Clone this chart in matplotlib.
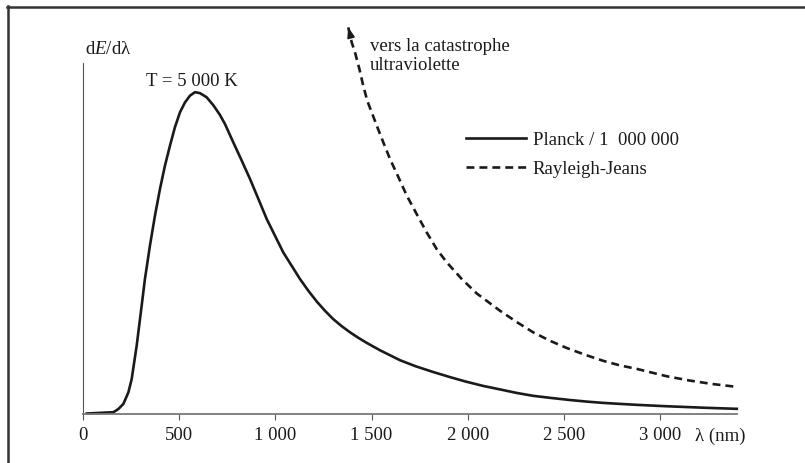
import matplotlib.pyplot as plt
from matplotlib.lines import Line2D

# values (wavelength in nm, intensity in arbitrary units, Planck peak = 100)
planck_nm = [20, 158, 184, 210, 236, 253, 279, 305, 322, 348, 374, 400, 426, 452, 478, 504,
             530, 556, 582, 608, 643, 678, 712, 738, 781, 825, 868, 912, 955, 998, 1041,
             1085, 1128, 1172, 1215, 1258, 1301, 1345, 1388, 1431, 1475, 1544, 1648, 1730,
             1822, 1910, 1993, 2080, 2168, 2255, 2341, 2440, 2532, 2620, 2705, 2790, 2879,
             3000, 3100, 3250, 3399]
planck_val = [0, 0.4, 1.4, 3.0, 6.6, 10.7, 21.1, 33.6, 41.9, 52.3, 61.6, 69.9, 77.2, 83.4,
              89.2, 93.8, 96.9, 99.0, 100.1, 99.8, 98.5, 96.0, 93.0, 90.2, 84.5, 78.8,
              73.1, 66.8, 60.6, 55.4, 50.2, 46.0, 41.9, 38.2, 34.9, 32.0, 29.4, 27.2, 25.3,
              23.6, 22.0, 19.7, 16.6, 14.7, 12.9, 11.3, 9.9, 8.6, 7.5, 6.4, 5.5, 4.8, 4.2,
              3.7, 3.3, 3.0, 2.7, 2.35, 2.1, 1.75, 1.45]

rj_nm = [1379, 1397, 1414, 1437, 1457, 1478, 1501, 1527, 1561, 1596, 1640, 1683, 1735,
         1787, 1839, 1891, 1969, 2047, 2168, 2260, 2340, 2430, 2515, 2610, 2705, 2790,
         2879, 2960, 3035, 3150, 3270, 3399]
rj_val = [120.3, 115.6, 112.5, 107.3, 102.1, 97.4, 93.8, 89.7, 84.5, 79.3, 73.6, 67.9,
          62.1, 56.4, 51.2, 47.1, 41.9, 37.4, 32.0, 28.3, 25.3, 22.6, 20.4, 18.3, 16.4,
          15.0, 13.9, 12.7, 11.6, 10.3, 9.2, 8.3]

xticks = [0, 500, 1000, 1500, 2000, 2500, 3000]
xtick_labels = ['0', '500', '1 000', '1 500', '2 000', '2 500', '3 000']

plt.rcParams['font.family'] = ['Liberation Serif', 'DejaVu Serif']
plt.rcParams['mathtext.fontset'] = 'custom'
plt.rcParams['mathtext.rm'] = 'Liberation Serif'
plt.rcParams['mathtext.it'] = 'Liberation Serif:italic'
FS = 13.5
INK = '#1a1a1a'

W, H = 805, 464
fig = plt.figure(figsize=(W / 100, H / 100), dpi=100)

# axes placed in pixels: x from 83 to 737, y baseline at 414.5 (from top), top at 20
left, right, base, top = 83, 737, 414.5, 20
ax = fig.add_axes([left / W, 1 - base / H, (right - left) / W, (base - top) / H])
ax.set_xlim(0, 3400)
ax.set_ylim(0, (base - top) / 3.21)

ax.plot(planck_nm, planck_val, color=INK, lw=1.9, solid_joinstyle='round', clip_on=False,
        label='Planck / 1  000 000')
rj_line, = ax.plot(rj_nm, rj_val, color=INK, lw=1.9, clip_on=False, label='Rayleigh-Jeans')
rj_line.set_dashes((3.0, 1.9))

# arrowhead at the top of the Rayleigh-Jeans curve
dx, dy = rj_nm[2] - rj_nm[0], rj_val[2] - rj_val[0]
ax.annotate('', xy=(rj_nm[0], rj_val[0]), xytext=(rj_nm[0] + 0.4 * dx, rj_val[0] + 0.4 * dy),
            arrowprops=dict(arrowstyle='-|>,head_length=0.6,head_width=0.22', color=INK,
                            lw=1.2, shrinkA=0, shrinkB=0))

for s in ['top', 'right']:
    ax.spines[s].set_visible(False)
ax.spines['left'].set_bounds(0, (base - 64) / 3.21)
ax.spines['left'].set_color('#555555')
ax.spines['left'].set_linewidth(0.8)
ax.spines['bottom'].set_color('#777777')
ax.spines['bottom'].set_linewidth(1.3)

ax.set_yticks([])
ax.set_xticks(xticks)
ax.set_xticklabels(xtick_labels)
ax.tick_params(axis='x', direction='out', length=4, width=0.8, color='#555555',
               pad=5, labelsize=FS, labelcolor=INK)

ax.text(3182, -(436 - base) / (base - top), 'λ (nm)', transform=ax.get_xaxis_transform(),
        ha='left', va='center', fontsize=FS, color=INK)
ax.text(10, (base - 50) / 3.21, r'd$\mathit{E}$/dλ', ha='left', va='center', fontsize=FS, color=INK)
ax.text(564, (base - 82) / 3.21, 'T = 5 000 K', ha='center', va='center', fontsize=FS, color=INK)
ax.text(1492, (base - 56) / 3.21, 'vers la catastrophe\nultraviolette', ha='left', va='center',
        fontsize=FS, color=INK, linespacing=1.2)

ax.legend(loc='upper left', bbox_to_anchor=(466 / W, 1 - 132 / H), bbox_transform=fig.transFigure,
          frameon=False, fontsize=FS, handlelength=3.2, handletextpad=0.35, labelspacing=0.65,
          borderpad=0, borderaxespad=0, labelcolor=INK)

# frame lines (top and left) of the original figure
fig.add_artist(Line2D([7 / W, 1], [1 - 8 / H, 1 - 8 / H], color='#333333', lw=1.8))
fig.add_artist(Line2D([8 / W, 8 / W], [0, 1 - 7 / H], color='#333333', lw=1.8))

fig.savefig('out.png', dpi=100)
